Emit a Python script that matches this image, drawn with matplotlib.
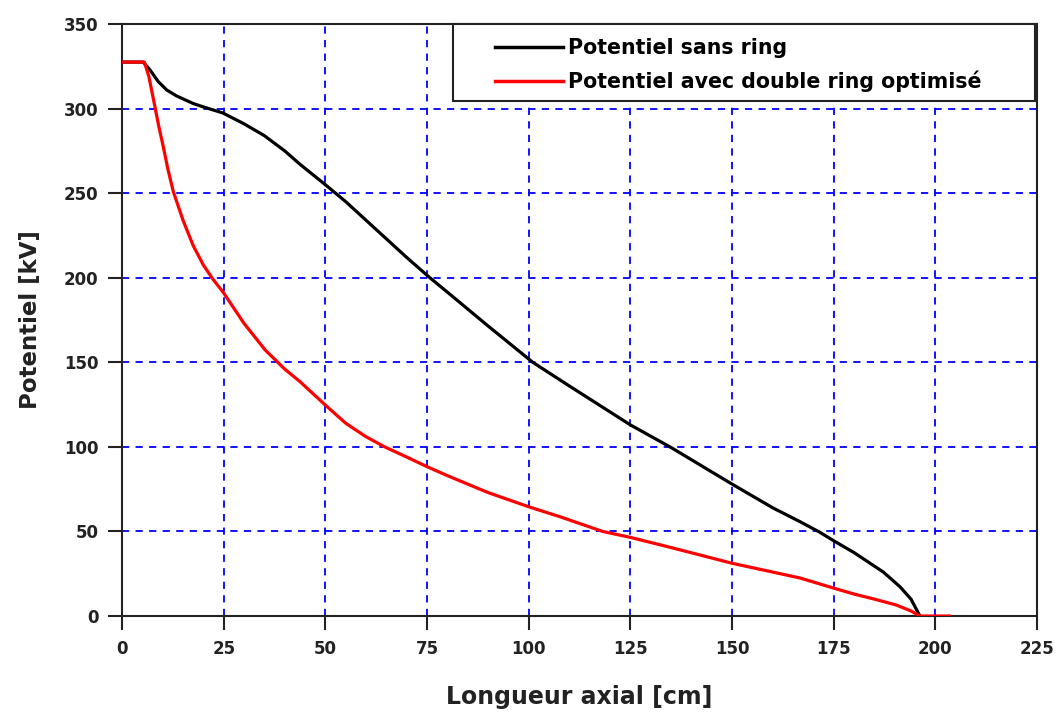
import matplotlib
matplotlib.use("Agg")
import matplotlib.pyplot as plt
from matplotlib.patches import Rectangle

# Data
x_sans = [0, 5.2, 6.9, 8.9, 11.0, 13.4, 17.5, 20, 24.8, 30, 35, 40, 43.8, 50, 55, 60, 65, 70,
          75.7, 80, 90, 101, 110, 125, 135.1, 150, 160, 166.7, 171.6, 175, 180, 187.2, 191.3,
          194, 196.2]
y_sans = [327.5, 327.5, 322.8, 316, 311, 307.5, 303, 301, 297.4, 291, 284, 275, 267, 255, 245,
          234, 223, 212, 200, 191.5, 171.5, 150, 136, 113, 99.5, 78, 64, 55.8, 49.5, 44.5, 37.5,
          26, 17.3, 10, 0]

x_ring = [0, 5.5, 6.6, 8.1, 9.0, 10.1, 11.2, 12.6, 15, 17.5, 20, 22.4, 25, 30, 35.2, 40, 43.8,
          50, 55, 60, 64.6, 70, 75, 80, 90, 100, 107.7, 118.2, 125, 135, 150, 160, 166.7,
          175, 180, 185, 190.4, 194, 196.2, 203.5]
y_ring = [327.5, 327.5, 319, 301, 290, 278, 265, 251, 234, 219, 207.5, 199, 191, 173, 157.3,
          146, 138.5, 124.7, 114, 106, 100, 94, 88.3, 83, 73, 64.6, 58.7, 50, 46.5, 40.5, 31.2,
          26, 22.5, 16.5, 13, 10, 6.5, 3, 0, 0]

label_sans = "Potentiel sans ring"
label_ring = "Potentiel avec double ring optimisé"
xticks = [0, 25, 50, 75, 100, 125, 150, 175, 200, 225]
yticks = [0, 50, 100, 150, 200, 250, 300, 350]

dark = '#222222'
plt.rcParams['font.family'] = ['DejaVu Sans']
fig = plt.figure(figsize=(10.62, 7.13), dpi=100)
ax = fig.add_axes([0.1149, 0.136, 0.8616, 0.8303])

ax.plot(x_sans, y_sans, color='black', lw=2.3, label=label_sans, zorder=3)
ax.plot(x_ring, y_ring, color='red', lw=2.3, label=label_ring, zorder=3)

ax.set_xlim(0, 225)
ax.set_ylim(0, 350)
ax.set_xticks(xticks)
ax.set_yticks(yticks)
ax.grid(True, color='blue', linestyle=(0, (4, 3.5)), lw=1.3)
ax.set_axisbelow(True)

for s in ax.spines.values():
    s.set_linewidth(1.5)
    s.set_color(dark)
ax.tick_params(direction='out', length=10, width=1.5, color=dark, labelsize=12, pad=7)
for lab in ax.get_xticklabels() + ax.get_yticklabels():
    lab.set_fontweight('bold')
    lab.set_color(dark)

ax.set_xlabel("Longueur axial [cm]", fontsize=17, fontweight='bold', labelpad=20, color=dark)
ax.set_ylabel("Potentiel [kV]", fontsize=16.5, fontweight='bold', labelpad=16, color=dark)

# legend box (frame drawn separately so its padding matches the reference)
box = Rectangle((0.3617, 0.870), 0.636, 0.130, transform=ax.transAxes, facecolor='white',
                edgecolor=dark, lw=1.5, zorder=4, clip_on=False)
ax.add_patch(box)
leg = ax.legend(loc='upper left', bbox_to_anchor=(0.4077, 0.976), frameon=False,
                prop={'weight': 'bold', 'size': 14.8}, handlelength=3.3, handletextpad=0.25,
                borderpad=0, labelspacing=0.62, borderaxespad=0)
for line in leg.get_lines():
    line.set_linewidth(2.5)
leg.set_zorder(5)

fig.savefig("out.png", dpi=100, facecolor='white')
